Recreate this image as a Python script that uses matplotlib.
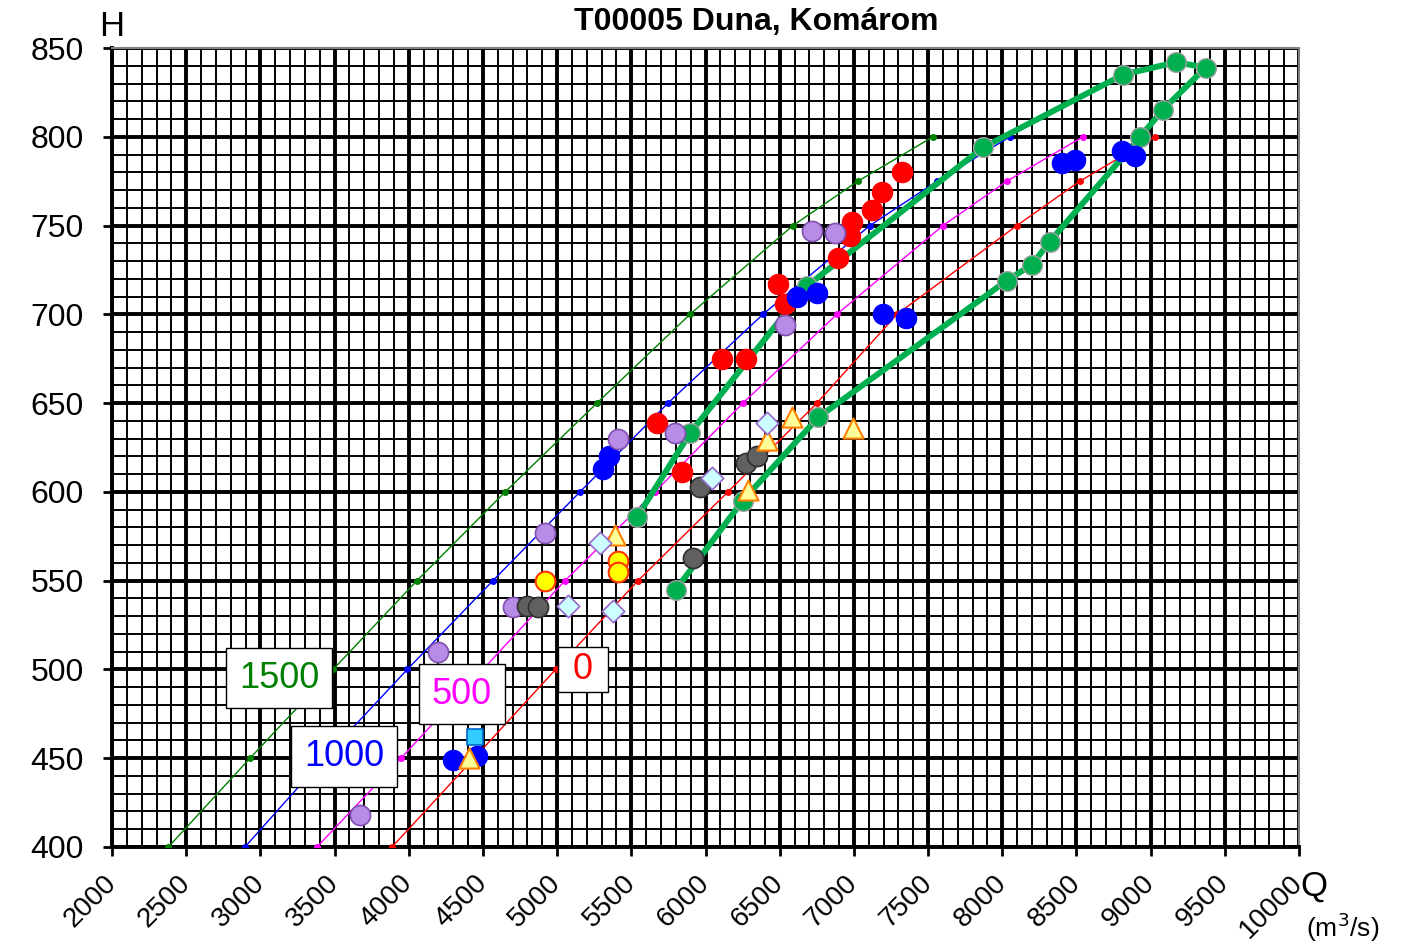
import matplotlib
matplotlib.use("Agg")
import matplotlib.pyplot as plt
from matplotlib.ticker import MultipleLocator

plt.rcParams["font.family"] = ["Liberation Sans", "DejaVu Sans"]

# rating curves for different slope values (H levels shared)
h_levels = [400, 450, 500, 550, 600, 650, 700, 750, 775, 800]
q_1500 = [2380, 2930, 3490, 4055, 4650, 5268, 5895, 6589, 7027, 7533]
q_1000 = [2896, 3430, 3990, 4567, 5154, 5747, 6387, 7108, 7560, 8051]
q_500 = [3381, 3948, 4500, 5053, 5659, 6252, 6885, 7600, 8031, 8543]
q_0 = [3887, 4440, 4990, 5545, 6151, 6751, 7290, 8098, 8523, 9028]

# flood loop (thick green)
loop_q = [5800, 6250, 6760, 8030, 8200, 8320, 8930, 9080, 9370, 9170, 8815, 7870, 6685, 5895, 5540]
loop_h = [545, 595, 642, 719, 728, 741, 800, 815, 839, 842, 835, 794, 716, 633, 586]

# measurement groups
red_q = [7325, 7190, 7120, 6990, 6975, 6895, 6490, 6535, 6110, 6275, 5675, 5840]
red_h = [780, 769, 759, 752, 744, 732, 717, 706, 675, 675, 639, 611]

blue_q = [6615, 6750, 7195, 7350, 8405, 8490, 8805, 8895, 5310, 5350, 4300, 4460]
blue_h = [710, 712, 700, 698, 785, 787, 792, 789, 613, 620, 449, 451]

purple_q = [6720, 6875, 6535, 5795, 5410, 4920, 4705, 4200, 3670]
purple_h = [747, 746, 694, 633, 630, 577, 535, 510, 418]

gray_q = [4800, 4870, 5965, 6275, 6345, 5915]
gray_h = [536, 535, 603, 616, 620, 563]

yellow_q = [4920, 5410, 5410]
yellow_h = [550, 561, 555]

tri_q = [5390, 4405, 6285, 6415, 6585, 6995]
tri_h = [576, 450, 601, 629, 642, 636]

diam_q = [6415, 6045, 5290, 5075, 5375]
diam_h = [639, 608, 571, 536, 533]

square_q = [4445]
square_h = [462]

x_ticks = list(range(2000, 10001, 500))
y_ticks = list(range(400, 851, 50))

fig = plt.figure(figsize=(14.25, 9.47), dpi=100)
ax = fig.add_axes([0.0786, 0.1056, 0.8330, 0.8437])

ax.set_xlim(2000, 10000)
ax.set_ylim(400, 850)
ax.set_xticks(x_ticks)
ax.set_yticks(y_ticks)
ax.xaxis.set_minor_locator(MultipleLocator(100))
ax.yaxis.set_minor_locator(MultipleLocator(10))
ax.set_axisbelow(True)
ax.grid(which="major", color="black", lw=2.8)
ax.grid(which="minor", color="black", lw=1.4)
ax.tick_params(which="minor", length=0)
ax.tick_params(which="major", direction="out", length=6.5, width=2)
ax.tick_params(axis="y", pad=14, labelsize=23)
ax.tick_params(axis="x", pad=17, labelsize=20)
ax.set_xticklabels([str(v) for v in x_ticks], rotation=45, ha="right", va="center",
                   rotation_mode="anchor")
for side in ["left", "bottom"]:
    ax.spines[side].set_linewidth(2.8)
for side in ["top", "right"]:
    ax.spines[side].set_color("#808080")
    ax.spines[side].set_linewidth(1.5)

# rating curves
ax.plot(q_1500, h_levels, color="#008000", lw=1, marker="o", ms=4, zorder=3)
ax.plot(q_1000, h_levels, color="#0000FF", lw=1, marker="o", ms=4, zorder=3)
ax.plot(q_500, h_levels, color="#FF00FF", lw=1, marker="o", ms=4, zorder=3)
ax.plot(q_0, h_levels, color="#FF0000", lw=1, marker="o", ms=4, zorder=3)

# flood loop
ax.plot(loop_q, loop_h, color="#00B050", lw=4.3, zorder=4)
ax.scatter(loop_q, loop_h, s=200, color="#00B050", edgecolors="#A0A0A0", linewidths=1, zorder=5)

ax.scatter(red_q, red_h, s=210, color="#FF0000", edgecolors="#FF0000", zorder=6)
ax.scatter(blue_q, blue_h, s=210, color="#0000FF", edgecolors="#0000FF", zorder=6)
ax.scatter(purple_q, purple_h, s=210, color="#B88CE6", edgecolors="#8050B0", linewidths=1.2, zorder=6)
ax.scatter(gray_q, gray_h, s=210, color="#606060", edgecolors="#303030", linewidths=1.2, zorder=6)
ax.scatter(yellow_q, yellow_h, s=200, color="#FFFF00", edgecolors="#FF3300", linewidths=1.5, zorder=6)
ax.scatter(tri_q, tri_h, s=210, marker="^", color="#FFFF99", edgecolors="#FF8000", linewidths=1.5, zorder=7)
ax.scatter(diam_q, diam_h, s=130, marker="D", color="#CCFFFF", edgecolors="#9966CC", linewidths=1.2, zorder=7)
ax.scatter(square_q, square_h, s=130, marker="s", color="#33CCFF", edgecolors="#0066CC", linewidths=1.2, zorder=7)

# curve labels
box = dict(boxstyle="square,pad=0.35", fc="white", ec="black", lw=1)
ax.text(3125, 495, "1500", color="#008000", fontsize=26, ha="center", va="center", bbox=box, zorder=8)
ax.text(3563, 451, "1000", color="#0000FF", fontsize=26, ha="center", va="center", bbox=box, zorder=8)
ax.text(4358, 486, "500", color="#FF00FF", fontsize=26, ha="center", va="center", bbox=box, zorder=8)
ax.text(5174, 500, " 0 ", color="#FF0000", fontsize=26, ha="center", va="center",
        bbox=dict(box, boxstyle="square,pad=0.15"), zorder=8)

ax.text(0.0, 1.027, "H", transform=ax.transAxes, fontsize=25, ha="center", va="center")
ax.text(1.0126, -0.0488, "Q", transform=ax.transAxes, fontsize=25, ha="center", va="center")
ax.text(1.037, -0.101, "(m$^3$/s)", transform=ax.transAxes, fontsize=19, ha="center", va="center")
fig.text(0.531, 0.9768, "T00005 Duna, Komárom", fontsize=23, fontweight="bold", ha="center", va="center")

fig.savefig("out.png", dpi=100)
